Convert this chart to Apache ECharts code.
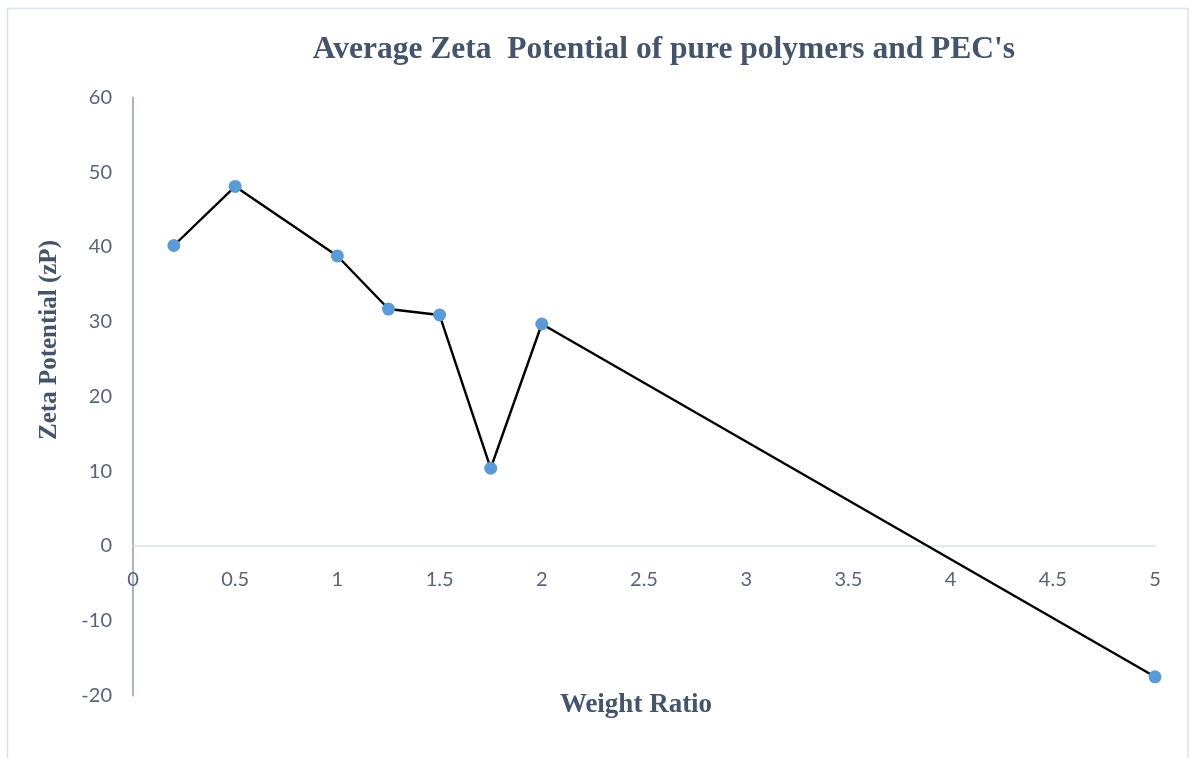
<!DOCTYPE html>
<html>
<head>
<meta charset="utf-8">
<script src="https://cdn.jsdelivr.net/npm/echarts@6/dist/echarts.min.js"></script>
<style>
html,body{margin:0;padding:0;background:#fff;}
#chart{width:1193px;height:758px;}
</style>
</head>
<body>
<div id="chart"></div>
<script>
const weightRatio = [0.2, 0.5, 1, 1.25, 1.5, 1.75, 2, 5];
const zetaPotential = [40.2, 48.1, 38.8, 31.7, 30.9, 10.4, 29.7, -17.5];
const titleText = "Average Zeta  Potential of pure polymers and PEC's";
const xAxisName = "Weight Ratio";
const yAxisName = "Zeta Potential (zP)";

const chart = echarts.init(document.getElementById('chart'), null, {renderer: 'canvas'});
const labelColor = '#5a6478';
const titleColor = '#44546a';
chart.setOption({
  animation: false,
  backgroundColor: '#ffffff',
  title: {
    text: titleText,
    left: 659, top: 29, textAlign: 'center',
    textStyle: {fontFamily: 'Liberation Serif', fontWeight: 'bold', fontSize: 31.5, color: titleColor}
  },
  graphic: [{
    type: 'rect', silent: true, z: -1,
    shape: {x: 7.5, y: 8.5, width: 1180.5, height: 760},
    style: {fill: 'none', stroke: '#dce1ea', lineWidth: 1.5}
  }, {
    type: 'text', silent: true,
    x: 50, y: 340, rotation: Math.PI / 2,
    style: {text: yAxisName, align: 'center', verticalAlign: 'middle',
      fontFamily: 'Liberation Serif', fontWeight: 'bold', fontSize: 25, fill: titleColor}
  }, {
    type: 'text', silent: true,
    x: 636, y: 705,
    style: {text: xAxisName, align: 'center', verticalAlign: 'middle',
      fontFamily: 'Liberation Serif', fontWeight: 'bold', fontSize: 27, fill: titleColor}
  }],
  grid: {left: 133, right: 38, top: 97.5, bottom: 62.5, containLabel: false, outerBoundsMode: 'none'},
  xAxis: {
    type: 'value', min: 0, max: 5, interval: 0.5,
    axisLine: {show: true, onZero: true, lineStyle: {color: '#d9dee8', width: 1.5}},
    axisTick: {show: false},
    splitLine: {show: false},
    axisLabel: {margin: -126, fontFamily: 'Lato', fontSize: 20, color: labelColor}
  },
  yAxis: {
    type: 'value', min: -20, max: 60, interval: 10,
    axisLine: {show: true, onZero: false, lineStyle: {color: '#a8b4c8', width: 2}},
    axisTick: {show: false},
    splitLine: {show: false},
    axisLabel: {margin: 21, fontFamily: 'Lato', fontSize: 20, color: labelColor}
  },
  series: [{
    type: 'line',
    data: weightRatio.map((x, i) => [x, zetaPotential[i]]),
    lineStyle: {color: '#000000', width: 2.4},
    symbol: 'circle', symbolSize: 13,
    itemStyle: {color: '#5b9bd5'},
    z: 3
  }]
});
</script>
</body>
</html>
